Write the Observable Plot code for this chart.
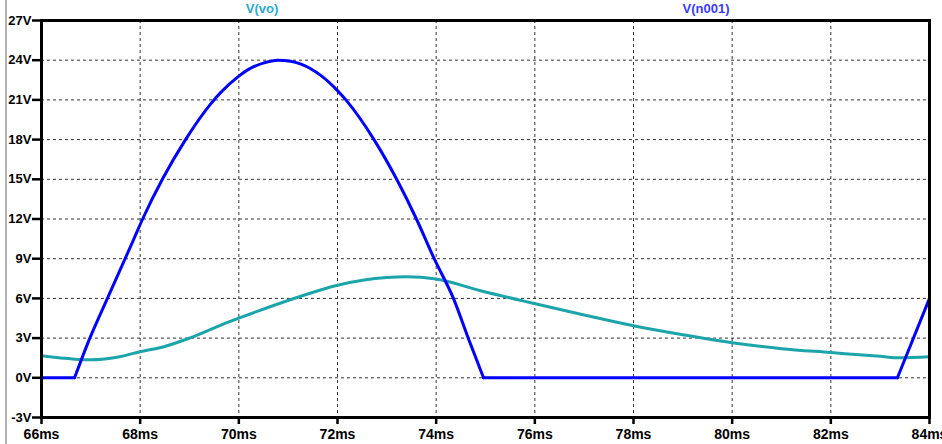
<!DOCTYPE html>
<html>
<head>
<meta charset="utf-8">
<script src="https://cdn.jsdelivr.net/npm/d3@7"></script>
<script src="https://cdn.jsdelivr.net/npm/@observablehq/plot@0.6"></script>
<style>
  html, body { margin: 0; padding: 0; background: white; overflow: hidden; }
  #wrap { position: relative; width: 942px; height: 444px; }
  .lbl { position: absolute; top: 1px; transform: translateX(-50%); font: bold 13px "Liberation Sans", Arial, sans-serif; white-space: nowrap; }
  #edge { position: absolute; left: 5px; top: 0; width: 2px; height: 444px; background: #b4b4b4; }
</style>
</head>
<body>
<div id="wrap">
  <div id="chart"></div>
  <div id="edge"></div>
  <div class="lbl" id="l1" style="left:262px;color:#2aaad2;">V(vo)</div>
  <div class="lbl" id="l2" style="left:706px;color:#3a3aff;">V(n001)</div>
</div>
<script>
// Tick values
const xTicks = [66, 68, 70, 72, 74, 76, 78, 80, 82, 84];
const yTicks = [-3, 0, 3, 6, 9, 12, 15, 18, 21, 24, 27];

// V(n001) series (time in ms, volts)
const n001T = [66, 66.67, 66.98, 67.30, 67.85, 68.05, 68.45, 68.92, 69.43, 69.63, 70.0, 70.17, 70.51, 70.79, 71.05, 71.26, 71.66, 72.0, 72.17, 72.74, 73.2, 73.6, 73.96, 74.35, 74.65, 74.96, 83.35, 84];
const n001V = [0, 0, 3.0, 5.7, 10.3, 12, 15, 18, 20.7, 21.55, 22.8, 23.25, 23.8, 24.0, 23.92, 23.7, 22.85, 21.7, 21, 18, 15, 12, 9, 6, 3, 0, 0, 6.0];

// V(vo) series
const voT = [66, 66.67, 67.0, 67.5, 68, 68.42, 69, 69.8, 70, 71.18, 72, 73, 73.4, 74, 74.9, 75.9, 77, 78, 79, 80, 81, 82, 83, 83.4, 84];
const voV = [1.66, 1.41, 1.36, 1.53, 1.97, 2.29, 3.0, 4.23, 4.51, 6.07, 7.0, 7.58, 7.63, 7.46, 6.58, 5.69, 4.75, 3.93, 3.25, 2.65, 2.2, 1.91, 1.62, 1.51, 1.59];

// split the clipped waveform into pieces at its corners (where it meets 0 V)
const n001 = [];
let seg = 0;
n001T.forEach((t, i) => {
  const v = n001V[i];
  if (i > 0) {
    const pv = n001V[i - 1];
    const flatPrev = pv === 0 && v === 0;
    const flatBefore = i > 1 && n001V[i - 2] === 0 && pv === 0;
    if (flatPrev !== flatBefore) {
      seg++;
      n001.push({t: n001T[i - 1], v: pv, seg});
    }
  }
  n001.push({t, v, seg});
});
const vo = voT.map((t, i) => ({t, v: voV[i]}));

const chart = Plot.plot({
  width: 942,
  height: 444,
  marginLeft: 41,
  marginRight: 13,
  marginTop: 20,
  marginBottom: 27,
  x: {domain: [66, 84], label: null},
  y: {domain: [-3, 27], label: null},
  style: {fontFamily: "'Liberation Sans', Arial, sans-serif", background: "white", color: "black"},
  marks: [
    Plot.gridX(xTicks.slice(1, -1), {stroke: "#333", strokeOpacity: 1, strokeWidth: 1, strokeDasharray: "3,3"}),
    Plot.gridY(yTicks.slice(1, -1), {stroke: "#333", strokeOpacity: 1, strokeWidth: 1, strokeDasharray: "3,3"}),
    Plot.line(vo, {x: "t", y: "v", stroke: "#1ba5ab", strokeWidth: 3, curve: "monotone-x"}),
    Plot.line(n001, {x: "t", y: "v", z: "seg", stroke: "#0000ff", strokeWidth: 3, curve: "monotone-x", strokeLinejoin: "round", strokeLinecap: "round"}),
    Plot.frame({stroke: "black", strokeWidth: 3}),
    Plot.axisY(yTicks, {tickSize: 9, tickPadding: 1, tickFormat: d => d + "V", fontSize: 13, fontWeight: "bold", strokeWidth: 2.5, label: null}),
    Plot.axisX(xTicks, {tickSize: 7, tickPadding: 5, tickFormat: d => d + "ms", fontSize: 14, fontWeight: "bold", strokeWidth: 2.5, label: null})
  ]
});
document.getElementById("chart").appendChild(chart);
</script>
</body>
</html>
